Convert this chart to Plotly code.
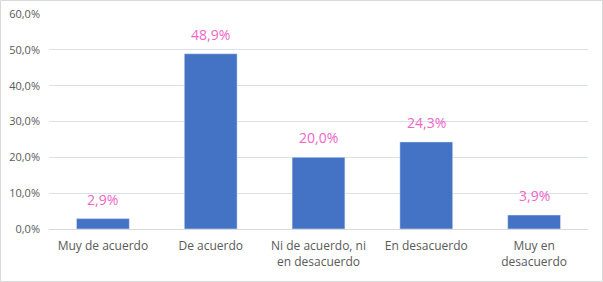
import plotly.graph_objects as go

categories = ["Muy de acuerdo", "De acuerdo", "Ni de acuerdo, ni<br>en desacuerdo", "En desacuerdo", "Muy en<br>desacuerdo"]
values = [2.9, 48.9, 20.0, 24.3, 3.9]

fig = go.Figure(go.Bar(
    x=categories,
    y=[v / 100 for v in values],
    marker_color="#4472C4",
    width=0.49,
    hoverinfo="skip",
))

annotations = [
    dict(x=c, y=v / 100, xref="x", yref="y", text=f"{v:.1f}%".replace(".", ","),
         showarrow=False, yanchor="bottom", yshift=8,
         font=dict(color="#F065C8", size=14))
    for c, v in zip(categories, values)
]

fig.update_layout(
    width=603, height=282,
    margin=dict(l=49, r=15, t=14, b=53, autoexpand=False),
    paper_bgcolor="white", plot_bgcolor="white",
    separators=",.",
    font=dict(family="Open Sans", size=11, color="#595959"),
    showlegend=False,
    annotations=annotations,
    xaxis=dict(showgrid=False, showline=True, linecolor="#D9D9D9", linewidth=1,
               tickfont=dict(size=12), ticks="", automargin=False, fixedrange=True,
               ticklabelstandoff=6),
    yaxis=dict(range=[0, 0.6], dtick=0.1, tickformat=".1%", showgrid=True,
               gridcolor="#D9E1EA", gridwidth=1, zeroline=False, showline=False,
               tickfont=dict(size=11), ticks="", ticklabelstandoff=8, automargin=False,
               fixedrange=True),
    shapes=[dict(type="rect", xref="paper", yref="paper",
                 x0=-48.5/539, x1=1+14.5/539, y0=-52.5/215, y1=1+13.5/215,
                 line=dict(color="#D9D9D9", width=1))],
)

fig.write_html("out.html", config={"displayModeBar": False},
               post_script="document.body.style.margin='0';")
